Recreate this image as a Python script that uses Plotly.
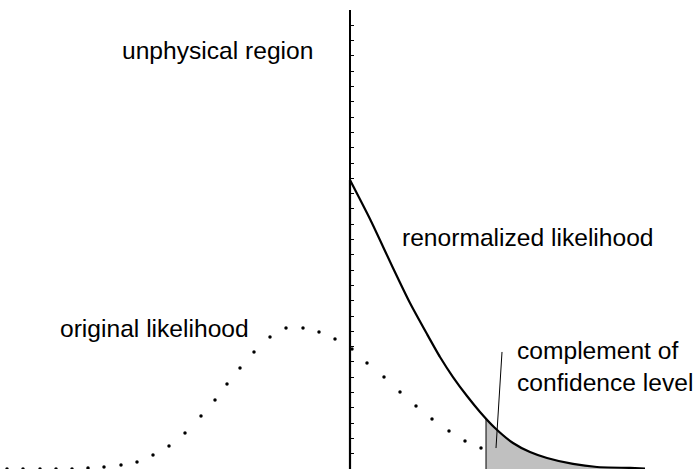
import plotly.graph_objects as go

# values: x in tenths of a pixel-column step (axis at x=0), y in tick units
orig_x = [-34.3, -32.7, -31.0, -29.4, -27.8, -26.2, -24.6, -22.9, -21.3, -19.7, -18.1, -16.5,
          -14.9, -13.5, -12.3, -11.0, -9.6, -8.0, -6.4, -4.7, -3.1, -1.5, 0.2, 1.7, 3.4, 5.0,
          6.6, 8.2, 9.9, 11.5, 13.1]
orig_y = [0.0, 0.0, 0.0, 0.0, 0.0, 0.07, 0.13, 0.26, 0.46, 0.92, 1.50, 2.35, 3.46, 4.51,
          5.56, 6.60, 7.65, 8.63, 9.22, 9.22, 8.95, 8.50, 7.84, 6.93, 6.01, 5.03, 4.12, 3.27,
          2.48, 1.83, 1.37]

renorm_x = [0.0, 2.0, 4.3, 6.0, 7.7, 9.0, 10.3, 11.7, 13.0, 14.5, 16.3, 18.0, 19.7,
            22.3, 24.7, 28.0, 29.5]
renorm_y = [18.89, 16.34, 13.14, 10.85, 8.82, 7.32, 6.01, 4.77, 3.73, 2.68, 1.70, 1.11,
            0.72, 0.33, 0.13, 0.07, 0.03]

tail_x = [13.6, 14.5, 16.3, 18.0, 19.7, 22.3, 24.7, 28.0, 29.3]
tail_y = [3.31, 2.68, 1.70, 1.11, 0.72, 0.33, 0.13, 0.07, 0.03]

labels = ["unphysical region", "renormalized likelihood", "original likelihood",
          "complement of<br>confidence level"]
label_x = [-23.0, 5.0, -29.2, 16.5]
label_y = [27.35, 15.1, 9.2, 6.67]

fig = go.Figure()

# shaded tail (complement of confidence level)
fig.add_trace(go.Scatter(x=tail_x, y=tail_y, mode="lines", fill="tozeroy", line_shape="spline",
                         fillcolor="#c0c0c0", line=dict(width=0), hoverinfo="skip"))
fig.add_trace(go.Scatter(x=[tail_x[0], tail_x[0]], y=[0, tail_y[0]], mode="lines",
                         line=dict(color="black", width=1)))

# original likelihood, dotted
fig.add_trace(go.Scatter(x=orig_x, y=orig_y, mode="markers",
                         marker=dict(color="black", size=3.5)))

# renormalized likelihood: vertical edge at the physical boundary, then the curve
fig.add_trace(go.Scatter(x=[renorm_x[0], renorm_x[0]], y=[0, renorm_y[0]], mode="lines",
                         line=dict(color="black", width=2.2)))
fig.add_trace(go.Scatter(x=renorm_x, y=renorm_y, mode="lines", line_shape="spline",
                         line=dict(color="black", width=2.2, smoothing=0.6)))

for txt, lx, ly in zip(labels, label_x, label_y):
    fig.add_annotation(x=lx, y=ly, text=txt, showarrow=False, xanchor="left",
                       yanchor="middle", align="left",
                       font=dict(family="Liberation Sans", size=24.6, color="black"))

# pointer to the shaded tail
fig.add_shape(type="line", x0=15.2, y0=7.65, x1=14.6, y1=1.37,
              line=dict(color="black", width=1))

fig.update_layout(
    width=694, height=469,
    margin=dict(l=0, r=0, t=10, b=0),
    paper_bgcolor="white", plot_bgcolor="white",
    showlegend=False,
    xaxis=dict(range=[-35.0, 34.4], visible=False),
    yaxis=dict(range=[0, 30], anchor="free", position=350 / 694, showline=True,
               linecolor="black", linewidth=1.5, ticks="inside", ticklen=3,
               tickcolor="black", tickwidth=1, dtick=1, showticklabels=False,
               showgrid=False, zeroline=False),
)

fig.write_html("out.html", config={"displayModeBar": False},
               post_script="document.body.style.margin='0';")
